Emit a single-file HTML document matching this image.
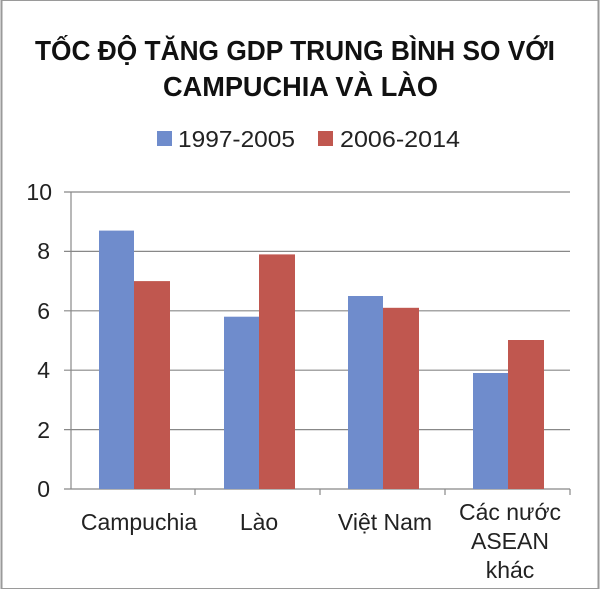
<!DOCTYPE html>
<html><head><style>
html,body{margin:0;padding:0;background:#fff}
svg{display:block}
text{font-family:"Liberation Sans","DejaVu Sans",sans-serif}
</style></head><body>
<svg width="600" height="589" viewBox="0 0 600 589">
<rect x="1.5" y="0" width="597" height="589" fill="#fff" stroke="#9a9a9a" stroke-width="2"/>
<text x="35" y="60" font-size="28" font-weight="bold" fill="#111" textLength="520" lengthAdjust="spacingAndGlyphs">TỐC ĐỘ TĂNG GDP TRUNG BÌNH SO VỚI</text>
<text x="163" y="96" font-size="28" font-weight="bold" fill="#111" textLength="275" lengthAdjust="spacingAndGlyphs">CAMPUCHIA VÀ LÀO</text>
<rect x="157" y="131" width="15" height="15" fill="#6f8ccc"/>
<text x="178" y="147" font-size="23" fill="#222" textLength="117" lengthAdjust="spacingAndGlyphs">1997-2005</text>
<rect x="318" y="131" width="15" height="15" fill="#c0574f"/>
<text x="340" y="147" font-size="23" fill="#222" textLength="120" lengthAdjust="spacingAndGlyphs">2006-2014</text>
<g stroke="#888" stroke-width="1.2">
<line x1="64" y1="192" x2="570" y2="192"/>
<line x1="64" y1="251.4" x2="570" y2="251.4"/>
<line x1="64" y1="310.8" x2="570" y2="310.8"/>
<line x1="64" y1="370.2" x2="570" y2="370.2"/>
<line x1="64" y1="429.6" x2="570" y2="429.6"/>
<line x1="64" y1="489" x2="570" y2="489"/>
<line x1="71" y1="192" x2="71" y2="489"/>
<line x1="195" y1="489" x2="195" y2="495"/>
<line x1="320" y1="489" x2="320" y2="495"/>
<line x1="445" y1="489" x2="445" y2="495"/>
<line x1="570" y1="489" x2="570" y2="495"/>
</g>
<g font-size="23" fill="#222" text-anchor="end">
<text x="52" y="200">10</text><text x="50" y="259">8</text><text x="50" y="319">6</text>
<text x="50" y="378">4</text><text x="50" y="438">2</text><text x="50" y="497">0</text>
</g>
<g fill="#6f8ccc">
<rect x="99" y="230.6" width="35" height="258.4"/>
<rect x="224" y="316.7" width="35" height="172.3"/>
<rect x="348" y="296" width="35" height="193"/>
<rect x="473" y="373" width="35" height="116"/>
</g>
<g fill="#c0574f">
<rect x="134" y="281.1" width="36" height="207.9"/>
<rect x="259" y="254.4" width="36" height="234.6"/>
<rect x="383" y="307.8" width="36" height="181.2"/>
<rect x="508" y="340" width="36" height="149"/>
</g>
<g font-size="23" fill="#222" text-anchor="middle">
<text x="139" y="530">Campuchia</text>
<text x="259" y="530">Lào</text>
<text x="385" y="530">Việt Nam</text>
<text x="510" y="520">Các nước</text>
<text x="510" y="549">ASEAN</text>
<text x="510" y="578">khác</text>
</g>
</svg>
</body></html>
